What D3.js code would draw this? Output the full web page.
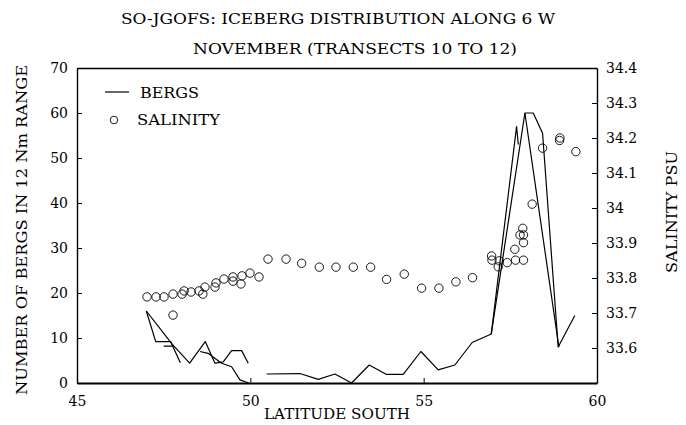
<!DOCTYPE html>
<html>
<head>
<meta charset="utf-8">
<script src="https://cdn.jsdelivr.net/npm/d3@7"></script>
<style>
  body { margin: 0; background: #fff; }
  text { font-family: "DejaVu Serif", "Liberation Serif", serif; fill: #000; }
</style>
</head>
<body>
<svg id="chart" width="686" height="425"></svg>
<script>
// Tick values for the three axes
const latTicks = [45, 50, 55, 60];
const bergTicks = [0, 10, 20, 30, 40, 50, 60, 70];
const salTicks = [33.6, 33.7, 33.8, 33.9, 34.0, 34.1, 34.2, 34.3, 34.4];

// Iceberg counts per transect: [latitude south, bergs]; null breaks the line
const transect10 = [
  [47.0, 16], [47.27, 9.2], [47.7, 9.2], [47.98, 4.5], null,
  [50.47, 2], [51.43, 2.1], [51.96, 0.8], [52.44, 2], [52.92, 0], [53.43, 4],
  [53.93, 1.9], [54.41, 1.9], [54.92, 7], [55.42, 2.9], [55.9, 4], [56.4, 9],
  [56.95, 10.9], [57.92, 60], [58.16, 60], [58.43, 55.5], [58.88, 8], [59.36, 15]
];
const transect11 = [
  [47.0, 16], [47.75, 8.6], [48.25, 4.4], [48.7, 9.2], [48.98, 4.4],
  [49.22, 4.7], [49.46, 7.2], [49.75, 7.2], [49.94, 4.4], null,
  [56.95, 10.9], [57.68, 57], [57.73, 53]
];
const transect12 = [
  [47.5, 8.2], [47.77, 8.2], null,
  [48.55, 7], [48.78, 6.6], [49.17, 4.4], [49.46, 3.6], [49.7, 0.7], [49.95, 0], null,
  [57.92, 60], [58.9, 8]
];

// Surface salinity samples: [latitude south, PSU]
const salinityLat = [
  47.02, 47.28, 47.51, 47.77, 47.77, 48.03, 48.09, 48.29, 48.52, 48.63,
  48.69, 48.98, 49.01, 49.24, 49.50, 49.50, 49.73, 49.76, 49.99, 50.25,
  50.51, 51.03, 51.48, 51.99, 52.47, 52.97, 53.47, 53.93, 54.44, 54.94,
  55.44, 55.93, 56.41, 56.96, 56.97, 57.18, 57.15, 57.41, 57.65, 57.88,
  57.63, 57.88, 57.78, 57.88, 57.86, 58.13, 58.43, 58.92, 58.93, 59.39
];
const salinityPsu = [
  33.746, 33.746, 33.746, 33.754, 33.694, 33.754, 33.763, 33.760, 33.763, 33.754,
  33.774, 33.774, 33.786, 33.797, 33.803, 33.791, 33.783, 33.806, 33.814, 33.803,
  33.854, 33.854, 33.842, 33.831, 33.831, 33.831, 33.831, 33.796, 33.811, 33.771,
  33.771, 33.789, 33.801, 33.863, 33.851, 33.849, 33.832, 33.844, 33.851, 33.851,
  33.882, 33.901, 33.923, 33.923, 33.942, 34.011, 34.171, 34.193, 34.200, 34.161
];

const svg = d3.select("#chart");
const plotLeft = 77, plotRight = 597, plotTop = 68, plotBottom = 383;

const x = d3.scaleLinear().domain([45, 60]).range([plotLeft, plotRight]);
const yB = d3.scaleLinear().domain([0, 70]).range([plotBottom, plotTop]);
const yS = d3.scaleLinear().domain([33.5, 34.4]).range([plotBottom, plotTop]);

// Titles
svg.append("text").attr("x", 338).attr("y", 24).attr("text-anchor", "middle")
  .attr("font-size", 14).attr("textLength", 434).attr("lengthAdjust", "spacingAndGlyphs")
  .text("SO-JGOFS: ICEBERG DISTRIBUTION ALONG 6 W");
svg.append("text").attr("x", 355).attr("y", 54).attr("text-anchor", "middle")
  .attr("font-size", 14).attr("textLength", 324).attr("lengthAdjust", "spacingAndGlyphs")
  .text("NOVEMBER (TRANSECTS 10 TO 12)");

// Axes (ticks point into the plot)
const tickLen = 5;
const gx = svg.append("g").attr("transform", `translate(0,${plotBottom})`)
  .call(d3.axisBottom(x).tickValues(latTicks).tickSizeInner(-tickLen).tickSizeOuter(0).tickPadding(13).tickFormat(d3.format("d")));
const gl = svg.append("g").attr("transform", `translate(${plotLeft},0)`)
  .call(d3.axisLeft(yB).tickValues(bergTicks).tickSizeInner(-tickLen).tickSizeOuter(0).tickPadding(9).tickFormat(d3.format("d")));
const gr = svg.append("g").attr("transform", `translate(${plotRight},0)`)
  .call(d3.axisRight(yS).tickValues(salTicks).tickSizeInner(-tickLen).tickSizeOuter(0).tickPadding(9).tickFormat(d => d3.format(".1f")(d).replace(/\.0$/, "")));
const gt = svg.append("g").attr("transform", `translate(0,${plotTop})`)
  .call(d3.axisTop(x).tickValues([]).tickSizeOuter(0));

[gx, gl, gr, gt].forEach(g => {
  g.selectAll("text").attr("font-size", 14).attr("font-family", "DejaVu Serif").attr("fill", "#000");
  g.selectAll("line").attr("stroke", "#000").attr("stroke-width", 1);
  g.select(".domain").attr("stroke", "#000").attr("stroke-width", 1.4);
});
gx.select(".domain").attr("stroke-width", 2);

// Axis titles
svg.append("text").attr("x", 337).attr("y", 419).attr("text-anchor", "middle")
  .attr("font-size", 14).attr("textLength", 146).attr("lengthAdjust", "spacingAndGlyphs")
  .text("LATITUDE SOUTH");
svg.append("text").attr("transform", "translate(27,230) rotate(-90)").attr("text-anchor", "middle")
  .attr("font-size", 14).attr("textLength", 330).attr("lengthAdjust", "spacingAndGlyphs")
  .text("NUMBER OF BERGS IN 12 Nm RANGE");
svg.append("text").attr("transform", "translate(677,212) rotate(-90)").attr("text-anchor", "middle")
  .attr("font-size", 14).attr("textLength", 122).attr("lengthAdjust", "spacingAndGlyphs")
  .text("SALINITY PSU");

// Iceberg lines
const line = d3.line().defined(d => d !== null).x(d => x(d[0])).y(d => yB(d[1]));
[transect10, transect11, transect12].forEach(t => {
  svg.append("path").attr("d", line(t)).attr("fill", "none")
    .attr("stroke", "#000").attr("stroke-width", 1.2).attr("stroke-linejoin", "round");
});

// Salinity circles
svg.append("g").selectAll("circle").data(d3.zip(salinityLat, salinityPsu)).join("circle")
  .attr("cx", d => x(d[0])).attr("cy", d => yS(d[1])).attr("r", 4.2)
  .attr("fill", "none").attr("stroke", "#000").attr("stroke-width", 0.9);

// Legend
svg.append("line").attr("x1", 105).attr("x2", 129).attr("y1", 92).attr("y2", 92)
  .attr("stroke", "#000").attr("stroke-width", 1.2);
svg.append("text").attr("x", 140).attr("y", 98).attr("font-size", 14)
  .attr("textLength", 59).attr("lengthAdjust", "spacingAndGlyphs").text("BERGS");
svg.append("circle").attr("cx", 114).attr("cy", 120).attr("r", 3.8)
  .attr("fill", "none").attr("stroke", "#000").attr("stroke-width", 0.9);
svg.append("text").attr("x", 137).attr("y", 125).attr("font-size", 14)
  .attr("textLength", 83).attr("lengthAdjust", "spacingAndGlyphs").text("SALINITY");
</script>
</body>
</html>
